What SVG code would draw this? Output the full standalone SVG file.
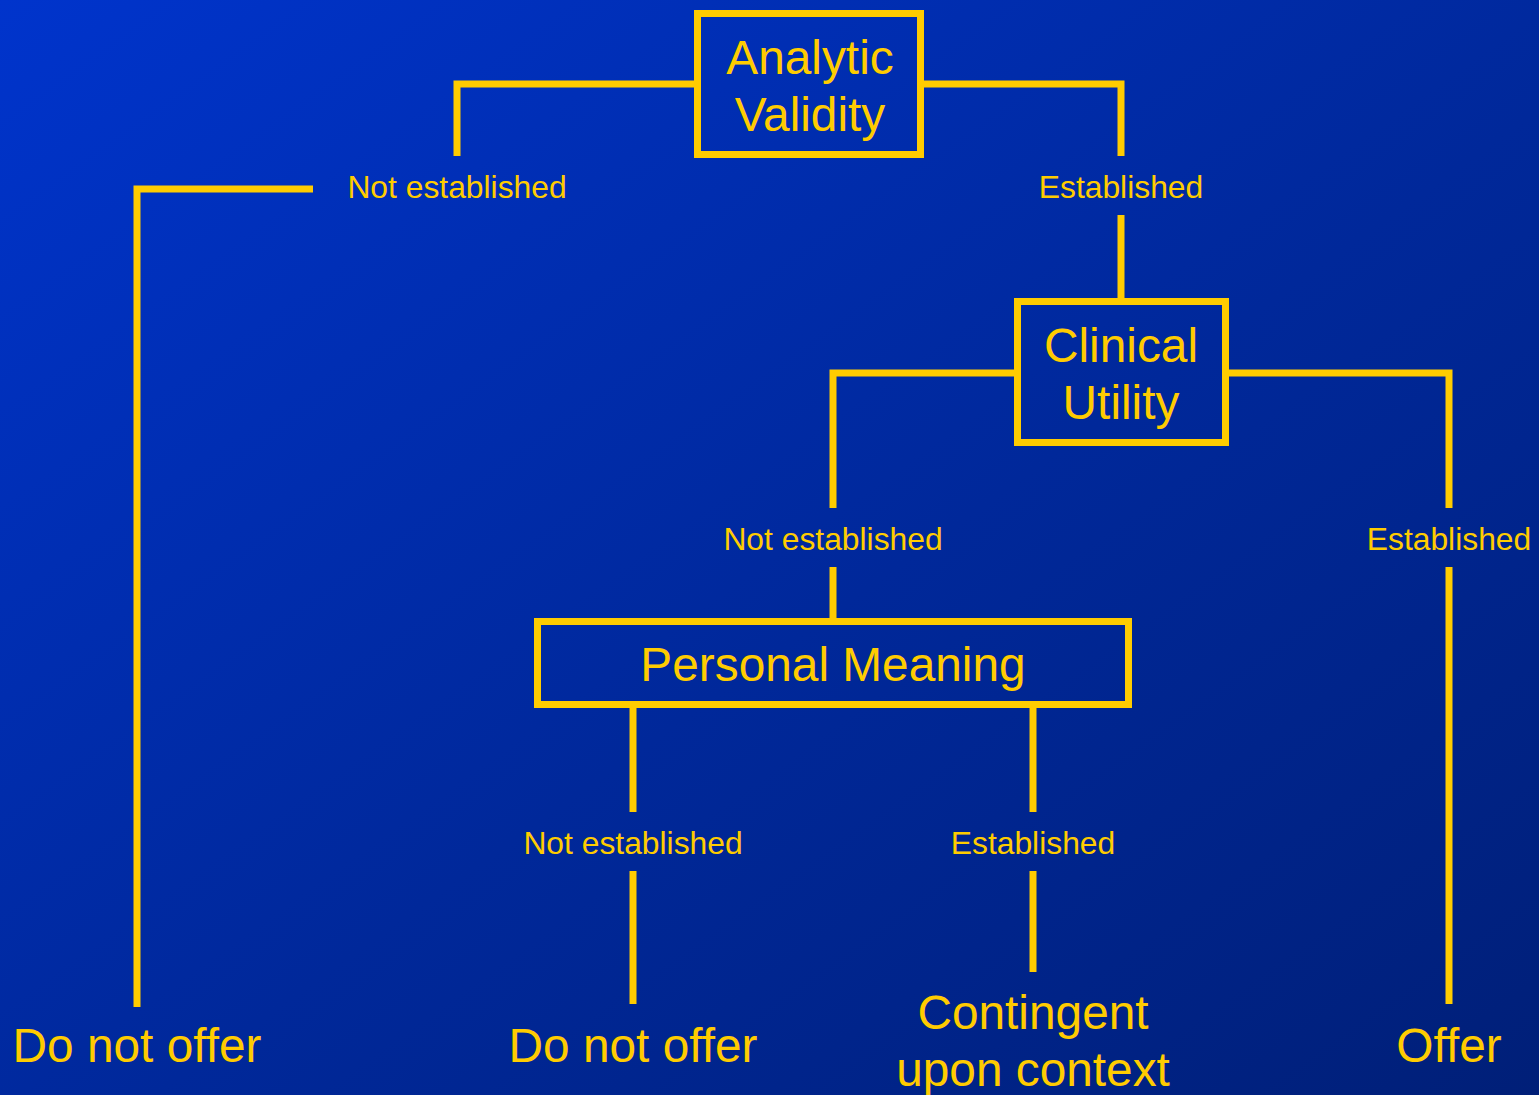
<svg xmlns="http://www.w3.org/2000/svg" width="1539" height="1095" viewBox="0 0 1539 1095">
<defs>
<linearGradient id="bg" x1="0" y1="0" x2="1" y2="1">
<stop offset="0" stop-color="#0034cc"/>
<stop offset="0.55" stop-color="#00289a"/>
<stop offset="1" stop-color="#001f78"/>
</linearGradient>
<style>
.box{fill:none;stroke:#ffcc00;stroke-width:7}
.ln{fill:none;stroke:#ffcc00;stroke-width:7;stroke-linejoin:miter;stroke-linecap:butt}
.big{font-family:"Liberation Sans",Arial,sans-serif;font-size:47.8px;fill:#ffcc00;text-anchor:middle}
.sm{font-family:"Liberation Sans",Arial,sans-serif;font-size:31.8px;fill:#ffcc00;text-anchor:middle}
</style>
</defs>
<rect x="0" y="0" width="1539" height="1095" fill="url(#bg)"/>
<g id="connectors">
<polyline class="ln" points="697,84 457,84 457,156"/>
<polyline class="ln" points="922,84 1121,84 1121,156"/>
<polyline class="ln" points="313,189 137,189 137,1007"/>
<line class="ln" x1="1121" y1="215" x2="1121" y2="299"/>
<polyline class="ln" points="1017,373 833,373 833,508"/>
<polyline class="ln" points="1226,373 1449,373 1449,508"/>
<line class="ln" x1="833" y1="567" x2="833" y2="621"/>
<line class="ln" x1="633" y1="702" x2="633" y2="812"/>
<line class="ln" x1="633" y1="871" x2="633" y2="1004"/>
<line class="ln" x1="1033" y1="702" x2="1033" y2="812"/>
<line class="ln" x1="1033" y1="871" x2="1033" y2="972"/>
<line class="ln" x1="1449" y1="567" x2="1449" y2="1004"/>
</g>
<g id="analytic-validity">
<rect class="box" x="697.5" y="13.5" width="223" height="141"/>
<text class="big" x="810" y="74">Analytic</text>
<text class="big" x="810" y="131">Validity</text>
</g>
<g id="av-not-established">
<text class="sm" x="457" y="198">Not established</text>
</g>
<g id="av-established">
<text class="sm" x="1121" y="198">Established</text>
</g>
<g id="clinical-utility">
<rect class="box" x="1017.5" y="301.5" width="208" height="141"/>
<text class="big" x="1121" y="362">Clinical</text>
<text class="big" x="1121" y="419">Utility</text>
</g>
<g id="cu-not-established">
<text class="sm" x="833" y="550">Not established</text>
</g>
<g id="cu-established">
<text class="sm" x="1449" y="550">Established</text>
</g>
<g id="personal-meaning">
<rect class="box" x="537.5" y="621.5" width="591" height="83"/>
<text class="big" x="833" y="681">Personal Meaning</text>
</g>
<g id="pm-not-established">
<text class="sm" x="633" y="854">Not established</text>
</g>
<g id="pm-established">
<text class="sm" x="1033" y="854">Established</text>
</g>
<g id="do-not-offer-1">
<text class="big" x="137" y="1062">Do not offer</text>
</g>
<g id="do-not-offer-2">
<text class="big" x="633" y="1062">Do not offer</text>
</g>
<g id="contingent">
<text class="big" x="1033" y="1029">Contingent</text>
<text class="big" x="1033" y="1086">upon context</text>
</g>
<g id="offer">
<text class="big" x="1449" y="1062">Offer</text>
</g>
</svg>
